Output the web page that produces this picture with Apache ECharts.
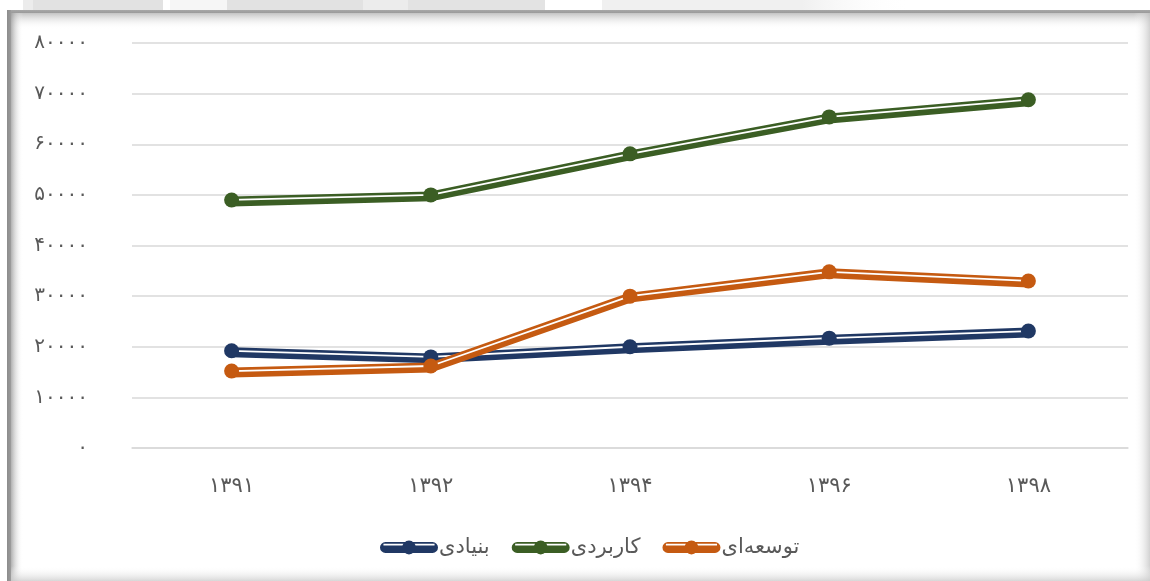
<!DOCTYPE html>
<html>
<head>
<meta charset="utf-8">
<script src="https://cdn.jsdelivr.net/npm/echarts@6/dist/echarts.min.js"></script>
<style>
  html, body { margin: 0; padding: 0; background: #fff; }
  #chart { width: 1150px; height: 581px; }
</style>
</head>
<body>
<div id="chart"></div>
<script>
const years = ['۱۳۹۱', '۱۳۹۲', '۱۳۹۴', '۱۳۹۶', '۱۳۹۸'];
const yTickLabels = ['۰', '۱۰۰۰۰', '۲۰۰۰۰', '۳۰۰۰۰', '۴۰۰۰۰', '۵۰۰۰۰', '۶۰۰۰۰', '۷۰۰۰۰', '۸۰۰۰۰'];

const basicName = 'بنیادی';
const appliedName = 'کاربردی';
const developName = 'توسعه‌ای';

const basic = [19200, 18000, 20000, 21700, 23100];
const applied = [49000, 50000, 58100, 65400, 68800];
const develop = [15200, 16200, 30000, 34800, 33000];

const colors = { basic: '#203864', applied: '#3b5e24', develop: '#c55a11' };

const chart = echarts.init(document.getElementById('chart'));

// legend icon: rounded bar with a thin white stripe and a dot in the middle
const legendIcon = 'path://M5,1.5 H53 A5.5,5.5 0 0,1 53,12.5 H5 A5.5,5.5 0 0,1 5,1.5 Z ' +
  'M3,3.2 V5 H55 V3.2 Z ' +
  'M36,7 A7,7 0 1,1 22,7 A7,7 0 1,1 36,7 Z';

function doubleLine(name, data, color, zBase) {
  return [
    {
      name: name, type: 'line', data: data, z: zBase,
      symbol: 'none', color: color,
      lineStyle: { color: color, width: 7, shadowColor: color, shadowOffsetY: 3, shadowBlur: 0 },
      emphasis: { disabled: true }
    },
    {
      name: name + '_w', type: 'line', data: data, z: zBase + 1,
      symbol: 'none', color: '#fff',
      lineStyle: { color: '#fff', width: 1.8 },
      emphasis: { disabled: true }
    },
    {
      name: name + '_m', type: 'line', data: data, z: zBase + 2,
      symbol: 'circle', symbolSize: 15, color: color,
      itemStyle: { color: color },
      lineStyle: { width: 0, opacity: 0 },
      emphasis: { disabled: true }
    }
  ];
}

const textColor = '#595959';
const font = 'DejaVu Sans';

function hGrad(x, y, w, h, c0, c1) {
  return {
    type: 'rect', shape: { x: x, y: y, width: w, height: h }, silent: true,
    style: { fill: new echarts.graphic.LinearGradient(0, 0, 1, 0, [{ offset: 0, color: c0 }, { offset: 1, color: c1 }]) }
  };
}
function vGrad(x, y, w, h, c0, c1) {
  return {
    type: 'rect', shape: { x: x, y: y, width: w, height: h }, silent: true,
    style: { fill: new echarts.graphic.LinearGradient(0, 0, 0, 1, [{ offset: 0, color: c0 }, { offset: 1, color: c1 }]) }
  };
}
function block(x, w, c) {
  return { type: 'rect', shape: { x: x, y: 0, width: w, height: 10 }, silent: true, style: { fill: c } };
}

chart.setOption({
  animation: false,
  backgroundColor: '#fff',
  textStyle: { fontFamily: font },
  graphic: [
    block(23, 10, '#ececec'),
    block(33, 130, '#e2e2e2'),
    block(170, 57, '#f6f6f6'),
    block(227, 136, '#e2e2e2'),
    block(363, 45, '#ececec'),
    block(408, 137, '#e3e3e3'),
    block(602, 200, '#f0f0f0'),
    hGrad(802, 0, 110, 10, '#f0f0f0', 'rgba(255,255,255,0)'),
    vGrad(7, 10, 1143, 3, '#a8a8a8', '#9a9a9a'),
    vGrad(7, 13, 1143, 16, 'rgba(170,170,170,0.7)', 'rgba(255,255,255,0)'),
    hGrad(7, 10, 4, 571, '#8c8c8c', '#9c9c9c'),
    hGrad(11, 13, 12, 568, 'rgba(150,150,150,0.75)', 'rgba(255,255,255,0)'),
    hGrad(1134, 13, 16, 568, 'rgba(255,255,255,0)', 'rgba(190,190,190,0.7)'),
    vGrad(11, 566, 1139, 15, 'rgba(255,255,255,0)', 'rgba(205,205,205,0.8)')
  ],
  grid: { left: 132, right: 22, top: 43, bottom: 133 },
  legend: {
    data: [basicName, appliedName, developName],
    bottom: 18,
    left: 375,
    icon: legendIcon,
    itemWidth: 58,
    itemHeight: 14,
    itemGap: 22,
    selectedMode: false,
    textStyle: { color: textColor, fontSize: 21, fontFamily: font, padding: [0, 0, 0, -4] }
  },
  xAxis: {
    type: 'category',
    data: years,
    axisLine: { show: true, lineStyle: { color: '#d9d9d9', width: 1.5 } },
    axisTick: { show: false },
    axisLabel: { color: textColor, fontSize: 21, margin: 28, fontFamily: font }
  },
  yAxis: {
    type: 'value',
    min: 0,
    max: 80000,
    interval: 10000,
    axisLine: { show: false },
    axisTick: { show: false },
    splitLine: { lineStyle: { color: '#d9d9d9', width: 1.5 } },
    axisLabel: {
      color: textColor, fontSize: 20, margin: 44, fontFamily: font,
      formatter: function (v) { return yTickLabels[Math.round(v / 10000)]; }
    }
  },
  series: [].concat(
    doubleLine(basicName, basic, colors.basic, 2),
    doubleLine(appliedName, applied, colors.applied, 5),
    doubleLine(developName, develop, colors.develop, 8)
  )
});
</script>
</body>
</html>
